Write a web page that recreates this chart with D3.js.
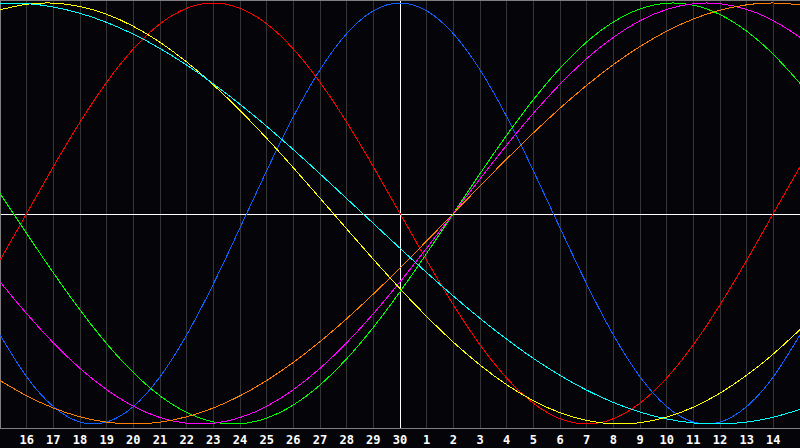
<!DOCTYPE html>
<html>
<head>
<meta charset="utf-8">
<script src="https://cdn.jsdelivr.net/npm/d3@7"></script>
<style>
html,body{margin:0;padding:0;background:#050509;overflow:hidden;}
svg{display:block;}
</style>
</head>
<body>
<svg id="chart" width="800" height="448"></svg>
<script>
// Day labels (tick positions 1..29 of a 30-day span)
const dayLabels = ["16","17","18","19","20","21","22","23","24","25","26","27","28","29","30",
                   "1","2","3","4","5","6","7","8","9","10","11","12","13","14"];

// Daily values (day index 0..30)
const redValues = [-0.2225,0,0.2225,0.4339,0.6235,0.7818,0.9010,0.9749,1,0.9749,0.9010,0.7818,0.6235,0.4339,0.2225,0,
  -0.2225,-0.4339,-0.6235,-0.7818,-0.9010,-0.9749,-1,-0.9749,-0.9010,-0.7818,-0.6235,-0.4339,-0.2225,0,0.2225];
const blueValues = [-0.5767,-0.7757,-0.9172,-0.9907,-0.9907,-0.9172,-0.7757,-0.5767,-0.3349,-0.0682,0.2035,0.4601,0.6826,0.8544,0.9629,1,
  0.9629,0.8544,0.6826,0.4601,0.2035,-0.0682,-0.3349,-0.5767,-0.7757,-0.9172,-0.9907,-0.9907,-0.9172,-0.7757,-0.5767];
const greenValues = [0.0950,-0.0950,-0.2817,-0.4582,-0.6182,-0.7557,-0.8660,-0.9450,-0.9898,-0.9989,-0.9718,-0.9096,-0.8146,-0.6901,-0.5406,-0.3717,
  -0.1893,0,0.1893,0.3717,0.5406,0.6901,0.8146,0.9096,0.9718,0.9989,0.9898,0.9450,0.8660,0.7557,0.6182];
const magentaValues = [-0.3247,-0.4759,-0.6142,-0.7357,-0.8372,-0.9158,-0.9694,-0.9966,-0.9966,-0.9694,-0.9158,-0.8372,-0.7357,-0.6142,-0.4759,-0.3247,
  -0.1646,0,0.1646,0.3247,0.4759,0.6142,0.7357,0.8372,0.9158,0.9694,0.9966,0.9966,0.9694,0.9158,0.8372];
const orangeValues = [-0.7934,-0.8660,-0.9239,-0.9659,-0.9914,-1,-0.9914,-0.9659,-0.9239,-0.8660,-0.7934,-0.7071,-0.6088,-0.5,-0.3827,-0.2588,
  -0.1305,0,0.1305,0.2588,0.3827,0.5,0.6088,0.7071,0.7934,0.8660,0.9239,0.9659,0.9914,1,0.9914];
const yellowValues = [0.9675,0.9940,0.9993,0.9834,0.9464,0.8893,0.8133,0.7198,0.6111,0.4894,0.3572,0.2175,0.0731,-0.0731,-0.2175,-0.3572,
  -0.4894,-0.6111,-0.7198,-0.8133,-0.8893,-0.9464,-0.9834,-0.9993,-0.9940,-0.9675,-0.9203,-0.8535,-0.7685,-0.6671,-0.5518];
const cyanValues = [0.9991,0.9970,0.9809,0.9511,0.9078,0.8519,0.7839,0.7050,0.6161,0.5188,0.4140,0.3034,0.1886,0.0711,-0.0473,-0.1652,
  -0.2807,-0.3922,-0.4982,-0.5973,-0.6883,-0.7690,-0.8393,-0.8976,-0.9435,-0.9760,-0.9949,-0.9998,-0.9907,-0.9677,-0.9311];

const seriesNames = ["red","blue","green","magenta","orange","yellow","cyan"];
const seriesColors = ["#ff0000","#1060ff","#00ff00","#ff00ff","#ff8000","#ffff00","#00ffff"];
const seriesData = [redValues,blueValues,greenValues,magentaValues,orangeValues,yellowValues,cyanValues];

const W = 800, H = 448, plotBottom = 428, todayIndex = 15;
const svg = d3.select("#chart");

const x = d3.scaleLinear().domain([0, 30]).range([0, W]);
const y = d3.scaleLinear().domain([-1, 1]).range([424, 3]);
const px = v => Math.floor(v) + 0.5;

// background
svg.append("rect").attr("width", W).attr("height", H).attr("fill", "#050509");

// vertical day grid
const ticks = d3.range(1, 30);
svg.append("g").selectAll("line").data(ticks).join("line")
  .attr("x1", d => px(x(d))).attr("x2", d => px(x(d)))
  .attr("y1", 0).attr("y2", plotBottom)
  .attr("stroke", d => d === todayIndex ? "#ffffff" : "#353535")
  .attr("stroke-width", 1).attr("shape-rendering", "crispEdges");

// center horizontal line
svg.append("line").attr("x1", 0).attr("x2", W)
  .attr("y1", px(y(0)) + 1).attr("y2", px(y(0)) + 1)
  .attr("stroke", "#ffffff").attr("shape-rendering", "crispEdges");

// frame
svg.append("line").attr("x1", 0).attr("x2", W).attr("y1", 0.5).attr("y2", 0.5)
  .attr("stroke", "#808080").attr("shape-rendering", "crispEdges");
svg.append("line").attr("x1", 0.5).attr("x2", 0.5).attr("y1", 0).attr("y2", plotBottom)
  .attr("stroke", "#808080").attr("shape-rendering", "crispEdges");
svg.append("line").attr("x1", 0).attr("x2", W).attr("y1", plotBottom + 0.5).attr("y2", plotBottom + 0.5)
  .attr("stroke", "#808080").attr("shape-rendering", "crispEdges");

// curves
const line = d3.line().x((d, i) => x(i)).y(d => y(d)).curve(d3.curveNatural);
svg.append("g").selectAll("path").data(seriesData).join("path")
  .attr("d", d => line(d))
  .attr("fill", "none")
  .attr("stroke", (d, i) => seriesColors[i])
  .attr("stroke-width", 1)
  .attr("shape-rendering", "crispEdges")
  .attr("class", (d, i) => seriesNames[i]);

// x labels
svg.append("g").selectAll("text").data(dayLabels).join("text")
  .attr("x", (d, i) => x(i + 1))
  .attr("y", 444)
  .attr("text-anchor", "middle")
  .attr("fill", "#ffffff")
  .attr("font-family", "'DejaVu Sans Mono', monospace")
  .attr("font-weight", "bold")
  .attr("font-size", 12)
  .text(d => d);
</script>
</body>
</html>
